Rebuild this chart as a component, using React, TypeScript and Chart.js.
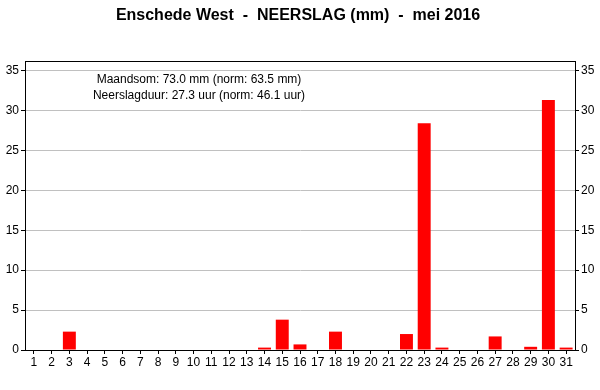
import React, { useEffect, useRef } from "react";
import { Chart, registerables } from "chart.js";

Chart.register(...registerables);

const days: string[] = Array.from({ length: 31 }, (_, i) => String(i + 1));
const rain: number[] = [
  0, 0, 2.3, 0, 0, 0, 0, 0, 0, 0,
  0, 0, 0, 0.3, 3.8, 0.7, 0, 2.3, 0, 0,
  0, 2.0, 28.4, 0.3, 0, 0, 1.7, 0, 0.4, 31.3,
  0.3,
];
const yTicks: number[] = [0, 5, 10, 15, 20, 25, 30, 35];
const titleText = "Enschede West  -  NEERSLAG (mm)  -  mei 2016";
const infoLines = [
  "Maandsom: 73.0 mm (norm: 63.5 mm)",
  "Neerslagduur: 27.3 uur (norm: 46.1 uur)",
];
const yMax = 36.2;

const FONT = "'Liberation Sans', Arial, sans-serif";

const overlay = {
  id: "overlay",
  afterDraw(chart: any) {
    const { ctx, chartArea } = chart;
    ctx.save();
    ctx.strokeStyle = "#000";
    ctx.lineWidth = 1;
    ctx.strokeRect(
      Math.round(chartArea.left) + 0.5,
      Math.round(chartArea.top) + 0.5,
      Math.round(chartArea.right - chartArea.left),
      Math.round(chartArea.bottom - chartArea.top)
    );
    ctx.fillStyle = "#000";
    ctx.textAlign = "center";
    ctx.textBaseline = "middle";
    ctx.font = `bold 16px ${FONT}`;
    ctx.fillText(titleText, 298, 16);
    ctx.font = `12px ${FONT}`;
    ctx.fillText(infoLines[0], 199, 80);
    ctx.fillText(infoLines[1], 199, 96);
    ctx.restore();
  },
};

export default function App() {
  const ref = useRef<HTMLCanvasElement | null>(null);
  useEffect(() => {
    document.body.style.margin = "0";
    const setTicks = (scale: any) => {
      scale.ticks = yTicks.map((v) => ({ value: v }));
    };
    const chart = new Chart(ref.current as HTMLCanvasElement, {
      type: "bar",
      data: {
        labels: days,
        datasets: [
          {
            data: rain,
            backgroundColor: "#ff0000",
            borderWidth: 0,
            categoryPercentage: 1,
            barPercentage: 0.73,
            yAxisID: "y",
          },
        ],
      },
      options: {
        animation: false,
        responsive: false,
        maintainAspectRatio: false,
        layout: { padding: { top: 61, left: 0, right: 0, bottom: 0 } },
        plugins: { legend: { display: false }, tooltip: { enabled: false }, title: { display: false } },
        scales: {
          x: {
            offset: true,
            grid: { offset: false, drawOnChartArea: false, tickLength: 4, tickColor: "#000", color: "#000" },
            border: { color: "#000" },
            ticks: { color: "#000", font: { family: FONT, size: 12 }, maxRotation: 0, autoSkip: false, padding: 1 },
            afterFit: (s: any) => { s.height = 40; },
          },
          y: {
            position: "left",
            min: 0,
            max: yMax,
            grid: { color: "#c0c0c0", tickColor: "#000", tickLength: 4 },
            border: { color: "#000" },
            ticks: { stepSize: 5, color: "#000", font: { family: FONT, size: 12 }, padding: 2 },
            afterBuildTicks: setTicks,
            afterFit: (s: any) => { s.width = 25; },
          },
          y2: {
            position: "right",
            min: 0,
            max: yMax,
            grid: { drawOnChartArea: false, tickColor: "#000", tickLength: 4 },
            border: { color: "#000" },
            ticks: { stepSize: 5, color: "#000", font: { family: FONT, size: 12 }, padding: 2 },
            afterBuildTicks: setTicks,
            afterFit: (s: any) => { s.width = 25; },
          },
        },
      },
      plugins: [overlay],
    });
    return () => chart.destroy();
  }, []);
  return (
    <div style={{ position: "absolute", left: 0, top: 0, width: 600, height: 390, background: "#fff" }}>
      <canvas ref={ref} width={600} height={390} style={{ width: 600, height: 390 }} />
    </div>
  );
}
